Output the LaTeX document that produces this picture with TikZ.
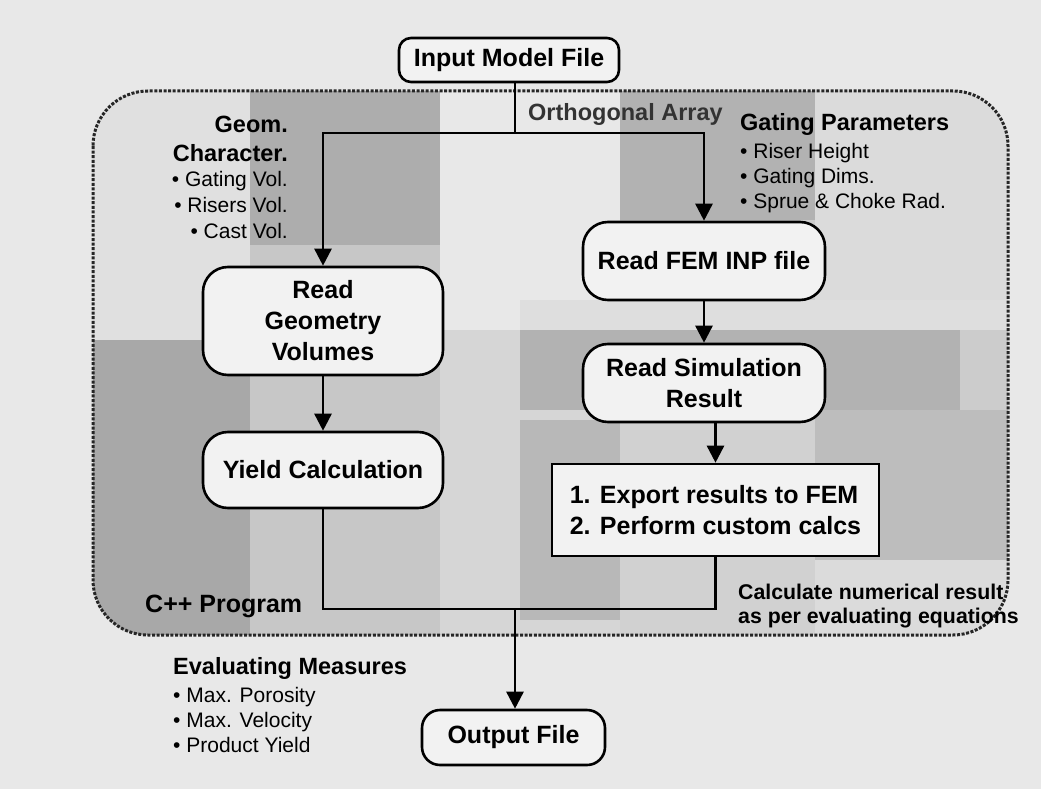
\documentclass[tikz,border=0pt]{standalone}
\usepackage{fontspec}
\setmainfont{Liberation Sans}
\usetikzlibrary{arrows.meta}
\newcommand\boxfont{\fontsize{25}{31}\selectfont\bfseries}
\newcommand\headfont{\fontsize{23.5}{25}\selectfont\bfseries}
\newcommand\itemfont{\fontsize{21}{25}\selectfont}
\newcommand\notefont{\fontsize{21.3}{24}\selectfont\bfseries}
\begin{document}
\begin{tikzpicture}[x=1pt,y=-1pt,
  wire/.style={line width=2.6pt, black},
  arr/.style={wire, -{Triangle[width=17pt,length=17pt]}},
  flowbox/.style={draw, line width=2.6pt, fill=black!5, align=center,
                  font=\boxfont, inner sep=0pt},
  lab/.style={inner sep=0pt, anchor=base west},
  rlab/.style={inner sep=0pt, anchor=base east}]
\useasboundingbox (0,0) rectangle (1041,789);
% page background
\fill[black!9] (0,0) rectangle (1041,789);

% shaded program region
\begin{scope}
  \clip[rounded corners=55] (93,91) rectangle (1008,635);
  \fill[black!20] (93,91) rectangle (1008,635);
  \fill[black!12] (93,91) rectangle (250,340);
  \fill[black!32] (250,91) rectangle (440,245);
  \fill[black!22] (250,245) rectangle (440,635);
  \fill[black!9]  (440,91) rectangle (620,330);
  \fill[black!16] (440,330) rectangle (620,635);
  \fill[black!34] (93,340) rectangle (250,635);
  \fill[black!30] (620,91) rectangle (815,220);
  \fill[black!14] (815,91) rectangle (1008,300);
  \fill[black!13] (520,300) rectangle (1008,330);
  \fill[black!30] (520,330) rectangle (960,410);
  \fill[black!26] (815,410) rectangle (1008,560);
  \fill[black!14] (815,560) rectangle (1008,635);
  \fill[black!18] (620,410) rectangle (815,635);
  \fill[black!28] (520,420) rectangle (620,620);
\end{scope}
\draw[black!85, line width=3pt, dash pattern=on 3pt off 1.6pt, rounded corners=55]
  (93,91) rectangle (1008,635);

% process boxes
\node[flowbox, rounded corners=12, minimum width=220, minimum height=44]
  (inp) at (509,60) {Input Model File};
\node[flowbox, rounded corners=25, minimum width=240, minimum height=108]
  (rgv) at (323,321) {Read\\Geometry\\Volumes};
\node[flowbox, rounded corners=25, minimum width=240, minimum height=76]
  (yld) at (323,470) {Yield Calculation};
\node[flowbox, rounded corners=25, minimum width=242, minimum height=78]
  (fem) at (704,261) {Read FEM INP file};
\node[flowbox, rounded corners=25, minimum width=242, minimum height=78]
  (sim) at (704,383) {Read Simulation\\Result};
\node[flowbox, align=left, minimum width=327, minimum height=92]
  (exp) at (715.5,510) {1. Export results to FEM\\2. Perform custom calcs};
\node[flowbox, rounded corners=18, minimum width=183, minimum height=55]
  (out) at (513.5,737.5) {Output File};

% connectors
\coordinate (split) at (515,133);
\coordinate (join) at (515,609);
\draw[wire] (inp.south -| split) -- (split);
\draw[arr] (split) -| (rgv.north);
\draw[arr] (split) -| (fem.north);
\draw[arr] (rgv) -- (yld);
\draw[arr] (fem) -- (sim);
\draw[arr] (sim.south -| exp.north) -- (exp.north);
\draw[wire] (yld.south) |- (join);
\draw[wire] (exp.south) |- (join);
\draw[arr] (join) -- (join |- out.north);

% labels
\node[lab, font=\headfont, text=black!80] (orth) at (528,121) {Orthogonal Array};

\node[lab, font=\headfont] (gph) at (740,131) {Gating Parameters};
\node[lab, font=\itemfont] (gp1) at (740,158) {• Riser Height};
\node[lab, font=\itemfont] (gp2) at (740,183) {• Gating Dims.};
\node[lab, font=\itemfont] (gp3) at (740,208) {• Sprue \& Choke Rad.};

\node[rlab, font=\headfont] (gc1) at (288,133) {Geom.};
\node[rlab, font=\headfont] (gc2) at (288,161) {Character.};
\node[rlab, font=\itemfont] (gc3) at (288,186) {• Gating Vol.};
\node[rlab, font=\itemfont] (gc4) at (288,212) {• Risers Vol.};
\node[rlab, font=\itemfont] (gc5) at (288,238) {• Cast Vol.};

\node[lab, font=\fontsize{25}{28}\selectfont\bfseries] (cpp) at (145,612) {C++ Program};

\node[lab, font=\notefont] (cn1) at (738,599) {Calculate numerical result};
\node[lab, font=\notefont] (cn2) at (738,623) {as per evaluating equations};

\node[lab, font=\headfont] (evh) at (173,674) {Evaluating Measures};
\node[lab, font=\itemfont] (ev1) at (173,702) {• Max. Porosity};
\node[lab, font=\itemfont] (ev2) at (173,727) {• Max. Velocity};
\node[lab, font=\itemfont] (ev3) at (173,752) {• Product Yield};
\end{tikzpicture}
\end{document}
